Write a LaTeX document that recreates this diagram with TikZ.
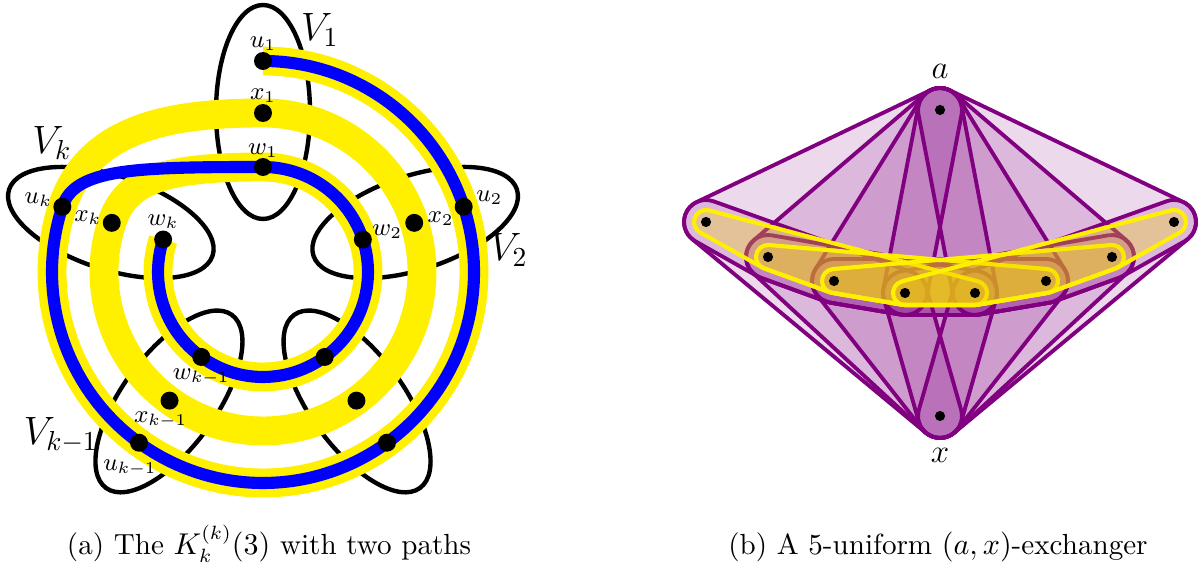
\documentclass[tikz,border=0pt]{standalone}
\usetikzlibrary{calc}
\usetikzlibrary{positioning}
\definecolor{pathblue}{RGB}{0,0,255}
\definecolor{pathyellow}{RGB}{255,240,0}
\definecolor{edgepurple}{RGB}{128,0,128}
\definecolor{edgegold}{RGB}{245,215,0}
\pgfdeclarelayer{background}
\pgfsetlayers{background,main}
% rounded hull of a convex polygon, corners given counter-clockwise
\newcommand{\hullr}{22}
\newcommand{\hstart}[2]{let \p1=($(#2)-(#1)$), \n1={atan2(\y1,\x1)-90} in ($(#2)+(\n1:\hullr)$)}
\newcommand{\hstep}[3]{let \p1=($(#2)-(#1)$), \p2=($(#3)-(#2)$),
  \n1={atan2(\y1,\x1)-90}, \n2={atan2(\y2,\x2)-90},
  \n3={\n2<\n1 ? \n2+360 : \n2} in
  -- ($(#2)+(\n1:\hullr)$) arc[start angle=\n1, end angle=\n3, radius=\hullr]}

\begin{document}
\begin{tikzpicture}[
      x=0.0128cm, y=0.0128cm,
      part/.style={line width=1.6pt},
      ypath/.style={draw=pathyellow, line width=0.37cm},
      bpath/.style={draw=pathblue, line width=0.155cm},
      vdot/.style={circle, fill=black, inner sep=0pt, minimum size=0.23cm},
      pdot/.style={circle, fill=black, inner sep=0pt, minimum size=0.13cm},
      lab/.style={font=\small, inner sep=1pt},
      setlab/.style={font=\Large, inner sep=0pt},
      vlab/.style={font=\large, inner sep=1pt},
      captext/.style={anchor=base, font=\fontsize{10.6pt}{13pt}\selectfont},
      phull/.style={draw=edgepurple, line width=1.4pt, fill=edgepurple,
        fill opacity=0.15, line join=round},
      yhull/.style={draw=pathyellow, line width=1.5pt, fill=edgegold,
        fill opacity=0.3, line join=round}]
  \useasboundingbox (0,0) rectangle (1198,567);

  % (a) three rings of vertices, one per class
  \begin{scope}[shift={(263,295)}]
    \foreach \n/\a in {1/90, 2/18, 3/-54, km/-126, k/162} {
      \node[vdot] (u\n) at (\a:211) {};
      \node[vdot] (x\n) at (\a:159) {};
      \node[vdot] (w\n) at (\a:105) {};
    }
  \end{scope}
  \begin{pgfonlayer}{background}
    \begin{scope}[shift={(263,295)}]
      \foreach \a in {90, 18, -54, -126, 162}
        \draw[part, rotate=\a] (160,0) ellipse [x radius=107, y radius=47];
    \end{scope}
    % yellow path runs through every vertex, blue skips the x ring
    \draw[ypath] (u1.center) arc[start angle=90, end angle=-198, radius=211]
      .. controls +(72:85) and +(-90,0) .. (x1.center)
      arc[start angle=90, end angle=-198, radius=159]
      .. controls +(72:45) and +(-100,0) .. (w1.center)
      arc[start angle=90, end angle=-198, radius=105];
    \draw[bpath] (u1.center) arc[start angle=90, end angle=-198, radius=211]
      .. controls +(72:40) and +(-130,0) .. (w1.center)
      arc[start angle=90, end angle=-198, radius=105];
  \end{pgfonlayer}
  \node[lab, above=2.7pt of u1.center] {$u_1$};
  \node[lab, above=2.7pt of x1.center] {$x_1$};
  \node[lab, above=2.2pt of w1.center] {$w_1$};
  \node[lab, above=2.7pt of wk.center] {$w_k$};
  \node[lab, right=3.4pt of u2.center, yshift=3.3pt] {$u_2$};
  \node[lab, right=3.7pt of x2.center, yshift=1.5pt] {$x_2$};
  \node[lab, right=2.3pt of w2.center, yshift=2.9pt] {$w_2$};
  \node[lab, left=2.6pt of uk.center, yshift=2.5pt] {$u_k$};
  \node[lab, left=2.6pt of xk.center, yshift=1.8pt] {$x_k$};
  \node[lab, below=3.3pt of wkm.center] {$w_{k-1}$};
  \node[lab, below=2.9pt of xkm.center, xshift=-3.3pt] {$x_{k-1}$};
  \node[lab, below=5.2pt of ukm.center, xshift=-3.3pt] {$u_{k-1}$};
  \node[setlab] (V1) at (320,537) {$V_1$};
  \node[setlab] (V2) at (509,317) {$V_2$};
  \node[setlab] (Vk) at (52,424) {$V_k$};
  \node[setlab] (Vkm) at (61,132) {$V_{k-1}$};
  \node[captext] (capa) at (269,12) {(a) The $K_k^{(k)}(3)$ with two paths};

  % (b) the exchanger
  \coordinate (a) at (940,457);
  \coordinate (x) at (940,151);
  \foreach \i/\px/\py in {1/706/345, 2/768/310, 3/834/286, 4/905/274,
      5/975/274, 6/1046/286, 7/1112/310, 8/1174/345}
    \coordinate (p\i) at (\px,\py);
  \begin{pgfonlayer}{background}
    \foreach \ia in {1,...,5} {
      \pgfmathtruncatemacro\ib{\ia+1}
      \pgfmathtruncatemacro\ic{\ia+2}
      \pgfmathtruncatemacro\id{\ia+3}
      \filldraw[phull] \hstart{p\id}{a} \hstep{p\id}{a}{p\ia}
        \hstep{a}{p\ia}{p\ib} \hstep{p\ia}{p\ib}{p\ic}
        \hstep{p\ib}{p\ic}{p\id} \hstep{p\ic}{p\id}{a} -- cycle;
      \filldraw[phull] \hstart{p\ia}{x} \hstep{p\ia}{x}{p\id}
        \hstep{x}{p\id}{p\ia} \hstep{p\id}{p\ia}{x} -- cycle;
    }
    \renewcommand{\hullr}{12}
    \foreach \ia in {1,...,4} {
      \pgfmathtruncatemacro\ib{\ia+1}
      \pgfmathtruncatemacro\ic{\ia+2}
      \pgfmathtruncatemacro\id{\ia+3}
      \pgfmathtruncatemacro\ie{\ia+4}
      \filldraw[yhull] \hstart{p\ie}{p\ia} \hstep{p\ie}{p\ia}{p\ib}
        \hstep{p\ia}{p\ib}{p\ic} \hstep{p\ib}{p\ic}{p\id}
        \hstep{p\ic}{p\id}{p\ie} \hstep{p\id}{p\ie}{p\ia} -- cycle;
    }
  \end{pgfonlayer}
  \foreach \v in {a, x, p1, p2, p3, p4, p5, p6, p7, p8}
    \node[pdot] (d\v) at (\v) {};
  \node[vlab, above=10.2pt of a] (alab) {$a$};
  \node[vlab, below=10.6pt of x] (xlab) {$x$};
  \node[captext] (capb) at (938,12) {(b) A 5-uniform $(a,x)$-exchanger};
\end{tikzpicture}
\end{document}
